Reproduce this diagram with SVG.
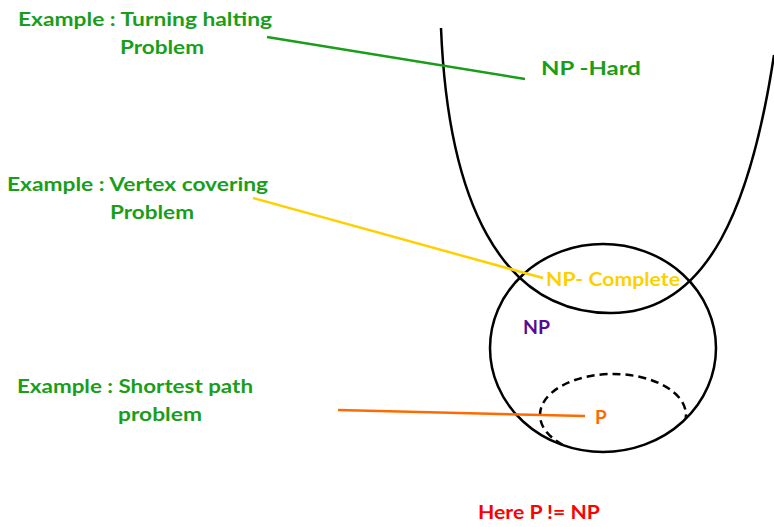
<svg xmlns="http://www.w3.org/2000/svg" width="774" height="527" viewBox="0 0 774 527">
<style>
text{font-family:Lato,"Open Sans",sans-serif;font-weight:bold;font-size:19px}
.g{fill:#1a9e1a}
.set{fill:none;stroke:#000;stroke-width:2.5}
.lead{fill:none;stroke-width:2.5}
</style>
<defs>
<clipPath id="inNP"><ellipse cx="603" cy="348" rx="112" ry="103"/></clipPath>
</defs>
<rect width="774" height="527" fill="#fff"/>
<g id="np-hard">
<path class="set" d="M441,28 C448,200 500,312 610,313 C710,314 752,200 774,55"/>
<text x="541" y="75" class="g" font-size="24" textLength="100" lengthAdjust="spacingAndGlyphs">NP -Hard</text>
</g>
<g id="np">
<ellipse class="set" cx="603" cy="348" rx="113" ry="104"/>
<text x="523" y="334" fill="#5b0a91" font-size="20" textLength="27" lengthAdjust="spacingAndGlyphs">NP</text>
</g>
<g id="p">
<ellipse class="set" cx="613" cy="415" rx="73" ry="41" stroke-dasharray="8,5" clip-path="url(#inNP)"/>
<text x="595" y="424" fill="#ff6a00" font-size="20">P</text>
</g>
<g id="np-complete">
<text x="546" y="286" fill="#ffd000" textLength="134" lengthAdjust="spacingAndGlyphs">NP- Complete</text>
</g>
<g id="ex-halting">
<text x="18" y="26" class="g" textLength="254" lengthAdjust="spacingAndGlyphs">Example : Turning halting</text>
<text x="120" y="54" class="g" textLength="84" lengthAdjust="spacingAndGlyphs">Problem</text>
</g>
<g id="ex-vertex">
<text x="7" y="191" class="g" textLength="261" lengthAdjust="spacingAndGlyphs">Example : Vertex covering</text>
<text x="110" y="219" class="g" textLength="84" lengthAdjust="spacingAndGlyphs">Problem</text>
</g>
<g id="ex-shortest">
<text x="17" y="393" class="g" textLength="236" lengthAdjust="spacingAndGlyphs">Example : Shortest path</text>
<text x="118" y="421" class="g" textLength="84" lengthAdjust="spacingAndGlyphs">problem</text>
</g>
<g id="note">
<text x="478" y="519" fill="#ff0000" textLength="122" lengthAdjust="spacingAndGlyphs">Here P != NP</text>
</g>
<g id="connectors">
<line class="lead" stroke="#1a9e1a" x1="267" y1="37" x2="525" y2="79"/>
<line class="lead" stroke="#ffd000" x1="253" y1="198" x2="543" y2="278"/>
<line class="lead" stroke="#ff6a00" x1="338" y1="410" x2="585" y2="416"/>
</g>
</svg>
